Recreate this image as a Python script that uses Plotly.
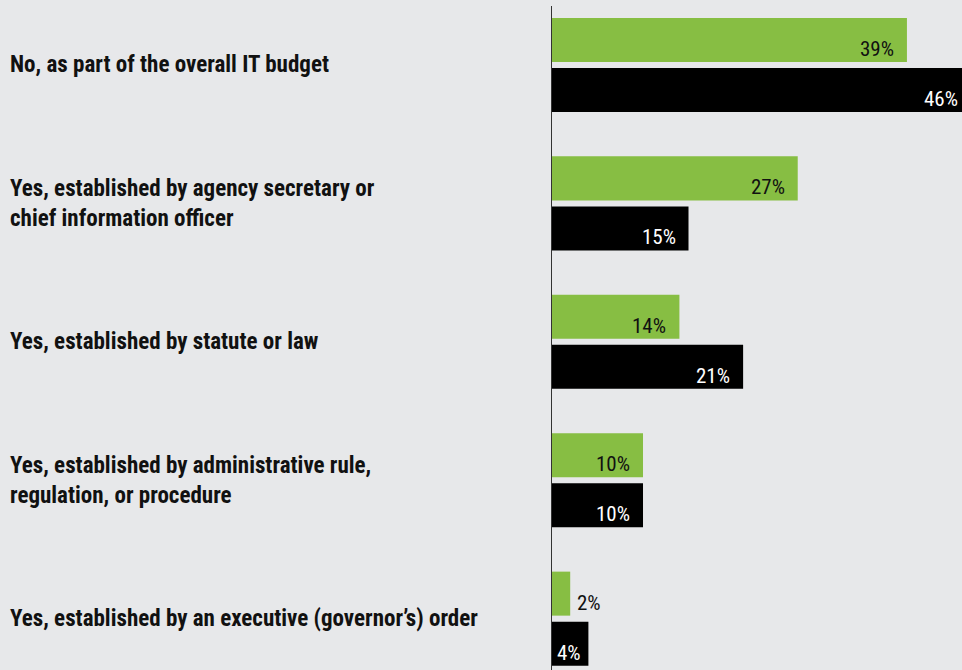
import plotly.graph_objects as go

# Survey answers (top to bottom) and the share of respondents for each group
categories = [
    "No, as part of the overall IT budget",
    "Yes, established by agency secretary or<br>chief information officer",
    "Yes, established by statute or law",
    "Yes, established by administrative rule,<br>regulation, or procedure",
    "Yes, established by an executive (governor’s) order",
]
series_green = [39, 27, 14, 10, 2]
series_black = [46, 15, 21, 10, 4]

GREEN = "#87be43"
BLACK = "#000000"
BG = "#e7e8ea"

PLOT_LEFT = 552        # pixel position of the value axis
PLOT_W = 410           # pixel width of the plotting area
X_MAX = 45.05          # visible end of the value axis
BAR_W = 0.318          # bar thickness in category units
HALF_GAP = 0.0217      # half the gap between the two bars of a group

pos = list(range(len(categories)))

fig = go.Figure()
fig.add_trace(go.Bar(
    y=pos, x=series_green, orientation="h",
    marker=dict(color=GREEN, line=dict(width=0)),
    width=BAR_W, offset=-(HALF_GAP + BAR_W),
    hoverinfo="skip", showlegend=False,
))
fig.add_trace(go.Bar(
    y=pos, x=series_black, orientation="h",
    marker=dict(color=BLACK, line=dict(width=0)),
    width=BAR_W, offset=HALF_GAP,
    hoverinfo="skip", showlegend=False,
))

LABEL_FONT = "Liberation Sans Narrow, Roboto Condensed, Arial Narrow, sans-serif"

annotations = []
# Category labels, left-aligned at the page edge
for i, cat in enumerate(categories):
    annotations.append(dict(
        x=(8 - PLOT_LEFT) / PLOT_W, xref="paper", y=i, yref="y",
        text="<b>" + cat + "</b>", showarrow=False,
        xanchor="left", yanchor="middle", align="left",
        font=dict(family=LABEL_FONT, size=23, color="#111111"),
    ))

# Value labels near the end of each bar
def value_labels(values, center_shift, inside_color):
    for i, v in enumerate(values):
        bar_px = v / X_MAX * PLOT_W
        if bar_px >= 50:
            # right-aligned inside the bar end
            x, anchor, shift, color = v / X_MAX, "right", -11, inside_color
        elif bar_px >= 30:
            # short bar: keep the label inside, from the bar start
            x, anchor, shift, color = 0, "left", 3, inside_color
        else:
            # too short: place it just after the bar
            x, anchor, shift, color = v / X_MAX, "left", 5, "#111111"
        annotations.append(dict(
            x=x, xref="paper", y=i + center_shift, yref="y",
            text=f"{v}%", showarrow=False,
            xanchor=anchor, xshift=shift, yshift=-9, yanchor="middle",
            font=dict(family=LABEL_FONT, size=21, color=color),
        ))

value_labels(series_green, -(HALF_GAP + BAR_W / 2), "#111111")
value_labels(series_black, HALF_GAP + BAR_W / 2, "#ffffff")

fig.update_layout(
    width=962, height=670,
    margin=dict(l=PLOT_LEFT, r=0, t=6, b=0),
    paper_bgcolor=BG, plot_bgcolor=BG,
    barmode="overlay",
    xaxis=dict(range=[0, X_MAX], visible=False, fixedrange=True),
    yaxis=dict(range=[4.371, -0.426], showticklabels=False, showgrid=False,
               zeroline=False, showline=True, linecolor="#333333",
               linewidth=1, ticks="", fixedrange=True),
    annotations=annotations,
)

fig.write_html("out.html")
